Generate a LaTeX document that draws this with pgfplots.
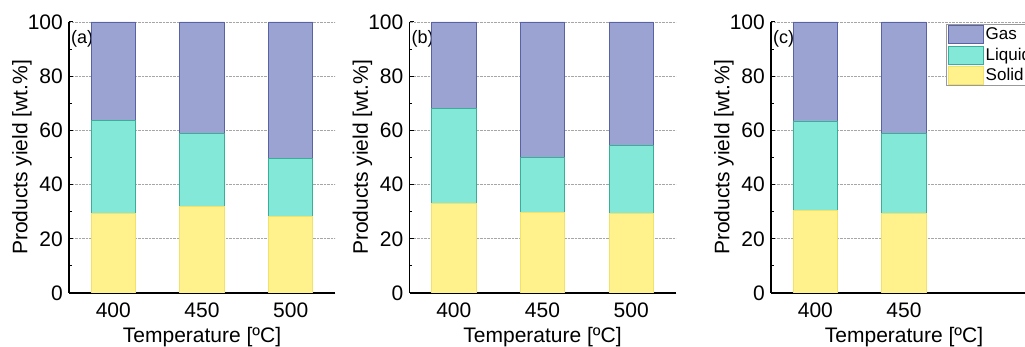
\documentclass[border=0pt]{standalone}
\usepackage{fontspec}
\setmainfont{Liberation Sans}
\usepackage{pgfplots}
\pgfplotsset{compat=1.18}
\definecolor{gasf}{HTML}{9BA3D3}
\definecolor{gase}{HTML}{5A62A6}
\definecolor{liqf}{HTML}{84E8D8}
\definecolor{liqe}{HTML}{3AAE98}
\definecolor{solf}{HTML}{FFF28C}
\definecolor{sole}{HTML}{F3E26A}
\tikzset{tag/.style={anchor=north west, inner sep=0pt, font=\fontsize{18}{20}\selectfont}}
\pgfplotsset{
  panel/.style={
    scale only axis, width=266pt, height=271pt,
    xmin=375, xmax=525, ymin=0, ymax=100,
    axis x line*=bottom, axis y line*=left,
    axis line style={line width=1.5pt},
    ybar stacked, bar width=25,
    xtick={400,450,500}, xtick style={draw=none},
    ytick={0,20,...,100}, minor y tick num=1,
    tick align=inside, major tick length=4pt, minor tick length=2.5pt,
    y tick style={line width=1pt, black},
    ymajorgrids, grid style={densely dotted, gray!70, line width=0.6pt},
    /pgf/number format/assume math mode=true,
    ticklabel style={font=\fontsize{21}{24}\selectfont, inner sep=0pt},
    xticklabel style={anchor=base, yshift=-25pt},
    yticklabel style={anchor=east, xshift=-6pt},
    every axis x label/.style={at={(axis description cs:0.5,0)}, anchor=base, yshift=-50pt, inner sep=0pt, font=\fontsize{21}{24}\selectfont},
    every axis y label/.style={at={(axis description cs:0,0.5)}, anchor=center, xshift=-47pt, rotate=90, inner sep=0pt, font=\fontsize{21}{24}\selectfont},
    xlabel={Temperature [ºC]}, ylabel={Products yield [wt.\%]},
  },
  sol/.style={fill=solf, draw=sole, line width=0.8pt},
  liq/.style={fill=liqf, draw=liqe, line width=0.8pt},
  gas/.style={fill=gasf, draw=gase, line width=0.8pt},
}
\begin{document}
\begin{tikzpicture}
\useasboundingbox (0pt,0pt) rectangle (1025pt,347pt);
\clip (0pt,0pt) rectangle (1025pt,347pt);
% panel (a)
\begin{axis}[panel, at={(69pt,54pt)}, anchor=origin]
\addplot[sol] coordinates {(400,29.5) (450,32.0) (500,28.3)};
\addplot[liq] coordinates {(400,34.1) (450,27.0) (500,21.5)};
\addplot[gas] coordinates {(400,36.4) (450,41.0) (500,50.2)};
\node[tag] at (rel axis cs:0,1) [yshift=-8pt, xshift=2pt] {(a)};
\end{axis}
% panel (b)
\begin{axis}[panel, at={(409.5pt,54pt)}, anchor=origin]
\addplot[sol] coordinates {(400,33.0) (450,29.8) (500,29.3)};
\addplot[liq] coordinates {(400,35.1) (450,20.1) (500,25.3)};
\addplot[gas] coordinates {(400,31.9) (450,50.1) (500,45.4)};
\node[tag] at (rel axis cs:0,1) [yshift=-8pt, xshift=2pt] {(b)};
\end{axis}
% panel (c)
\begin{axis}[panel, at={(771pt,54pt)}, anchor=origin, xtick={400,450},
  reverse legend,
  legend image code/.code={\draw[#1] (0pt,-9pt) rectangle (35pt,9pt);},
  legend cell align=left,
  legend style={at={(rel axis cs:0.658,0.993)}, anchor=north west, draw=gray!80, line width=0.8pt,
    font=\fontsize{17}{19}\selectfont, inner xsep=2pt, inner ysep=1pt, row sep=1.5pt,
    nodes={inner sep=1.5pt}}]
\addplot[sol] coordinates {(400,30.4) (450,29.2)};
\addplot[liq] coordinates {(400,33.1) (450,29.8)};
\addplot[gas] coordinates {(400,36.5) (450,41.0)};
\legend{Solid,Liquid,Gas}
\node[tag] at (rel axis cs:0,1) [yshift=-8pt, xshift=2pt] {(c)};
\end{axis}
\end{tikzpicture}
\end{document}
